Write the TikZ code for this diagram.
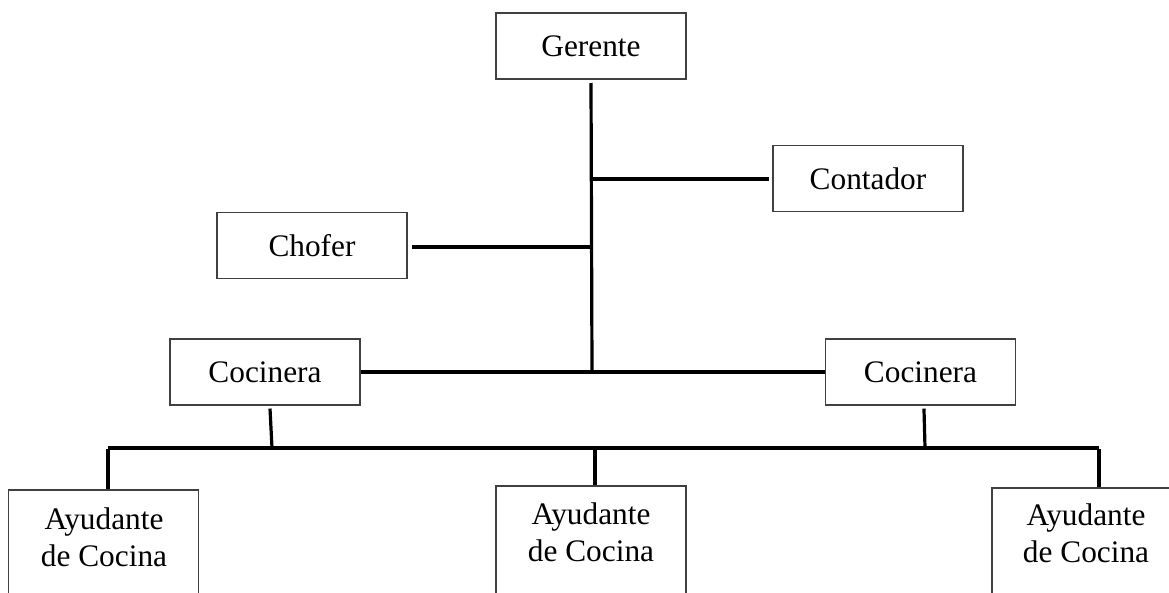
\documentclass[tikz,border=0pt]{standalone}
\usepackage{fontspec}
\setmainfont{Liberation Serif}
\begin{document}
\begin{tikzpicture}[x=0.75pt,y=-0.75pt,
  box/.style={draw=black!75,line width=1.3pt,minimum width=142.5pt,minimum height=49.5pt,inner sep=0pt,font=\fontsize{23.5}{28}\selectfont},
  tallbox/.style={draw=black!75,line width=1.3pt,minimum width=142.5pt,minimum height=90pt,anchor=north,inner sep=0pt},
  boxtext/.style={anchor=north,align=center,inner sep=0pt,font=\fontsize{23.5}{28}\selectfont},
  conn/.style={line width=2.4pt,black}]
\useasboundingbox (0,0) rectangle (1169,592);
\clip (0,0) rectangle (1169,592);
% nodes
\node[box] (ger) at (591,46) {Gerente};
\node[box] (con) at (868,178.5) {Contador};
\node[box] (cho) at (312,245.5) {Chofer};
\node[box] (cocl) at (265,372) {Cocinera};
\node[box] (cocr) at (920.5,372) {Cocinera};
\node[tallbox] (ayl) at (103.5,489) {};
\node[tallbox] (aym) at (591,485) {};
\node[tallbox] (ayr) at (1087,487) {};
\node[boxtext] (tl) at (104,507) {Ayudante\\de Cocina};
\node[boxtext] (tm) at (591,502) {Ayudante\\de Cocina};
\node[boxtext] (tr) at (1086,503) {Ayudante\\de Cocina};
% coordinates
\coordinate (spinetop) at (591,83);
\coordinate (spinebot) at (592,372);
\coordinate (jcon) at (591,179);
\coordinate (jcho) at (591,247);
\coordinate (busl) at (108,448);
\coordinate (busr) at (1099,448);
\coordinate (bm) at (595,448);
\coordinate (bcl) at (272,448);
\coordinate (bcr) at (925,448);
% connectors
\draw[conn] (spinetop) -- (spinebot);
\draw[conn] (jcon) -- ([xshift=-2pt]con.west |- jcon);
\draw[conn] ([xshift=3pt]cho.east |- jcho) -- (jcho);
\draw[conn] (cocl.east) -- (cocr.west);
\draw[conn] ([xshift=3.75pt,yshift=-2pt]cocl.south) -- (bcl);
\draw[conn] ([xshift=2.6pt,yshift=-2pt]cocr.south) -- (bcr);
\draw[conn] (busl) -- (busr);
\draw[conn] ([yshift=-1pt]busl) -- (busl |- ayl.north);
\draw[conn] ([yshift=-1pt]bm) -- (bm |- aym.north);
\draw[conn] ([yshift=-1pt]busr) -- (busr |- ayr.north);
\end{tikzpicture}
\end{document}
